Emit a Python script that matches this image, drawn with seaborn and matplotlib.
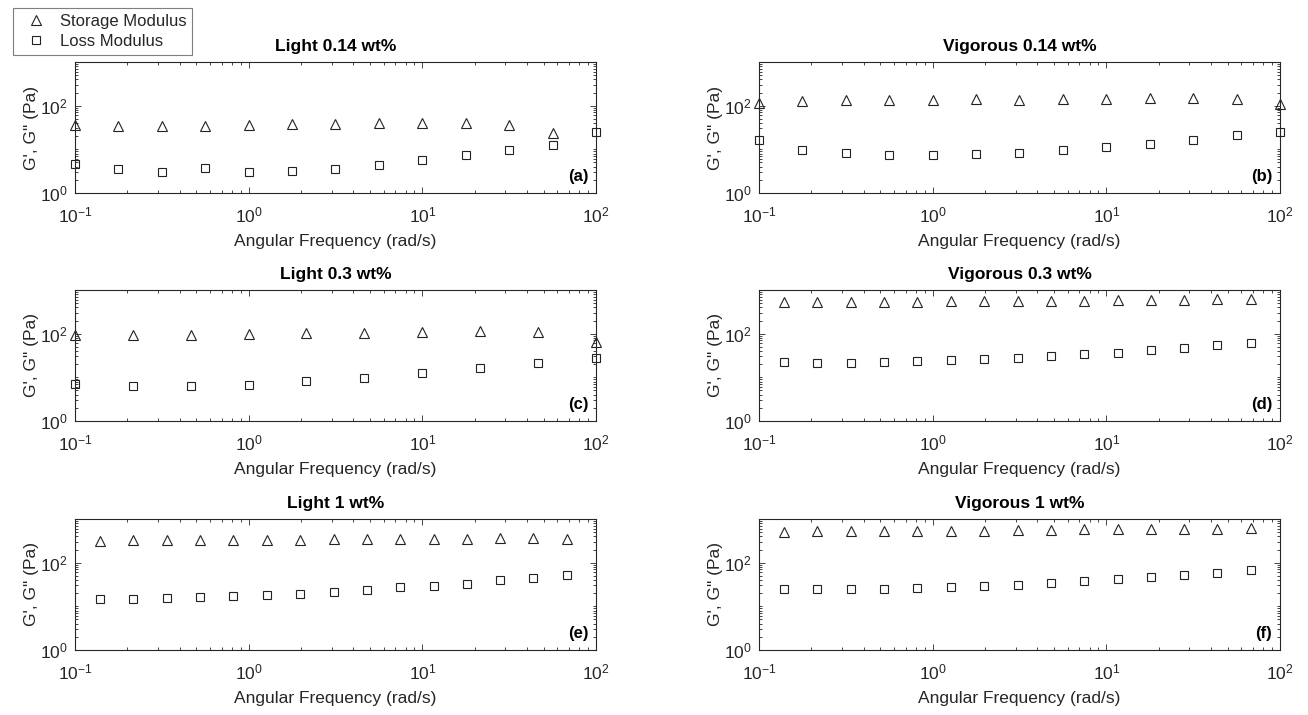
import numpy as np
import matplotlib
matplotlib.use("Agg")
import matplotlib.pyplot as plt
from matplotlib.ticker import LogLocator, NullFormatter
import seaborn as sns

# ---------------- data ----------------
freq_a = [0.1, 0.178, 0.316, 0.562, 1.0, 1.78, 3.16, 5.62, 10.0, 17.8, 31.6, 56.2, 100.0]
gp_a = [36, 34, 34, 34, 36, 38, 38, 40, 40, 40, 36.5, 23.6, np.nan]
gpp_a = [4.5, 3.6, 3.0, 3.7, 3.0, 3.15, 3.6, 4.4, 5.7, 7.4, 9.8, 12.6, 24.9]

freq_b = [0.1, 0.178, 0.316, 0.562, 1.0, 1.78, 3.16, 5.62, 10.0, 17.8, 31.6, 56.2, 100.0]
gp_b = [115, 130, 134, 134, 132, 139, 137, 144, 144, 151, 151, 144, 109]
gpp_b = [16.1, 9.6, 8.3, 7.4, 7.4, 7.65, 8.3, 9.6, 11.4, 13.3, 16.3, 21.2, 25.2]

freq_c = [0.1, 0.215, 0.464, 1.0, 2.15, 4.64, 10.0, 21.5, 46.4, 100.0]
gp_c = [93, 93, 93, 100, 105.5, 103.6, 109, 113, 109, 64]
gpp_c = [7.0, 6.5, 6.5, 6.8, 8.2, 9.65, 12.4, 16.1, 21.8, 27.9]

freq_d = [0.139, 0.217, 0.338, 0.525, 0.817, 1.27, 1.98, 3.08, 4.79, 7.45, 11.6, 18.0, 28.0, 43.6, 67.8]
gp_d = [533, 533, 533, 533, 533, 552, 552, 552, 572, 572, 593, 593, 593, 624, 635]
gpp_d = [22.3, 21.5, 21.5, 22.3, 23.1, 24.3, 26.6, 27.5, 30.0, 34.5, 37.0, 42.5, 48.1, 55.3, 61.4]

freq_e = [0.139, 0.217, 0.338, 0.525, 0.817, 1.27, 1.98, 3.08, 4.79, 7.45, 11.6, 18.0, 28.0, 43.6, 67.8]
gp_e = [311, 322, 322, 322, 322, 333, 333, 345, 345, 345, 357, 357, 370, 370, 357]
gpp_e = [14.7, 14.7, 15.7, 16.3, 16.9, 18.1, 19.1, 20.8, 23.5, 27.0, 29.0, 33.3, 39.7, 45.6, 52.4]

freq_f = [0.139, 0.217, 0.338, 0.525, 0.817, 1.27, 1.98, 3.08, 4.79, 7.45, 11.6, 18.0, 28.0, 43.6, 67.8]
gp_f = [507, 525, 525, 525, 543, 543, 543, 562, 562, 582, 582, 582, 603, 603, 624]
gpp_f = [24.8, 24.8, 24.8, 24.8, 26.6, 28.0, 29.0, 31.1, 35.1, 38.3, 43.3, 46.4, 52.4, 59.3, 68.1]

titles = ["Light 0.14 wt%", "Vigorous 0.14 wt%", "Light 0.3 wt%",
          "Vigorous 0.3 wt%", "Light 1 wt%", "Vigorous 1 wt%"]
letters = ["(a)", "(b)", "(c)", "(d)", "(e)", "(f)"]
legend_labels = ["Storage Modulus", "Loss Modulus"]
xlabel_text = "Angular Frequency (rad/s)"
ylabel_text = "G', G\" (Pa)"

panels = [(freq_a, gp_a, gpp_a), (freq_b, gp_b, gpp_b), (freq_c, gp_c, gpp_c),
          (freq_d, gp_d, gpp_d), (freq_e, gp_e, gpp_e), (freq_f, gp_f, gpp_f)]

# ---------------- style ----------------
sns.set_style("ticks")
plt.rcParams['font.family'] = ['Liberation Sans', 'DejaVu Sans']
plt.rcParams['mathtext.fontset'] = 'custom'
plt.rcParams['mathtext.rm'] = 'Liberation Sans'
plt.rcParams['mathtext.it'] = 'Liberation Sans:italic'
plt.rcParams['mathtext.bf'] = 'Liberation Sans:bold'

AX_COL = '#262626'
W, H = 1308, 715
fig = plt.figure(figsize=(W / 100, H / 100), dpi=100)

lefts = [75, 759]
width = 521
bottoms = [193, 421, 650]
height = 131

handles = None
for i, (fr, gp, gpp) in enumerate(panels):
    r, c = divmod(i, 2)
    ax = fig.add_axes([lefts[c] / W, 1 - bottoms[r] / H, width / W, height / H])
    ax.set_xscale('log')
    ax.set_yscale('log')
    sns.lineplot(x=fr, y=gp, ax=ax, marker='^', linestyle='none',
                 markerfacecolor='none', markeredgecolor='#222222',
                 markeredgewidth=0.8, markersize=7.5, color='#222222',
                 clip_on=False, label=legend_labels[0], legend=False)
    sns.lineplot(x=fr, y=gpp, ax=ax, marker='s', linestyle='none',
                 markerfacecolor='none', markeredgecolor='#222222',
                 markeredgewidth=0.8, markersize=5.5, color='#222222',
                 clip_on=False, label=legend_labels[1], legend=False)
    ax.set_xlim(0.1, 100)
    ax.set_ylim(1, 1000)
    ax.set_xticks([0.1, 1, 10, 100])
    ax.set_yticks([1, 100])
    ax.xaxis.set_minor_locator(LogLocator(base=10, subs=np.arange(2, 10)))
    ax.yaxis.set_minor_locator(LogLocator(base=10, subs=np.arange(1, 10)))
    ax.xaxis.set_minor_formatter(NullFormatter())
    ax.yaxis.set_minor_formatter(NullFormatter())
    ax.tick_params(which='both', direction='in', top=True, right=True,
                   color=AX_COL, labelcolor=AX_COL, labelsize=12.5, width=0.6)
    ax.tick_params(which='major', length=4)
    ax.tick_params(axis='x', which='major', pad=9)
    ax.tick_params(axis='y', which='major', pad=5)
    ax.tick_params(which='minor', length=2.2)
    for s in ax.spines.values():
        s.set_color(AX_COL)
        s.set_linewidth(0.8)
        s.set_visible(True)
    ax.set_title(titles[i], fontsize=12.5, fontweight='bold', color='black', pad=8)
    ax.set_xlabel(xlabel_text, fontsize=12.5, color=AX_COL, labelpad=6)
    ax.set_ylabel(ylabel_text, fontsize=12.5, color=AX_COL, labelpad=1)
    ax.text(0.985, 0.07, letters[i], transform=ax.transAxes, ha='right', va='bottom',
            fontsize=12, fontweight='bold', color='black')
    ax.grid(False)
    if handles is None:
        handles = ax.get_lines()

leg = fig.legend(handles[:2], legend_labels, loc='upper left',
                 bbox_to_anchor=(13 / W, 1 - 8 / H), borderaxespad=0,
                 fontsize=12, frameon=True, fancybox=False, edgecolor='#7f7f7f',
                 handlelength=2.05, handletextpad=0.4, borderpad=0.35,
                 labelspacing=0.3, framealpha=1)
leg.get_frame().set_linewidth(0.8)
for t in leg.get_texts():
    t.set_color(AX_COL)

fig.savefig('out.png', dpi=100, facecolor='white')
